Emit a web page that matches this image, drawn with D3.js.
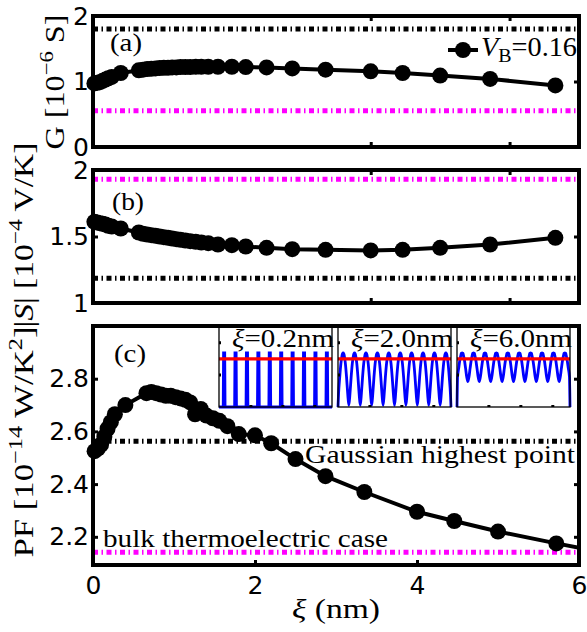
<!DOCTYPE html>
<html>
<head>
<meta charset="utf-8">
<script src="https://cdn.jsdelivr.net/npm/d3@7"></script>
<style>
body { margin: 0; background: #fff; }
svg { display: block; background: #fff; }
.tick text { font-family: "DejaVu Sans", sans-serif; font-size: 25px; fill: #000; }
.tick line { stroke: #000; stroke-width: 3; }
.serif { font-family: "Liberation Serif", "Times New Roman", serif; fill: #000; }
</style>
</head>
<body>
<div id="chart"></div>
<script>
// correlation length xi (nm)
const xi = [0.02, 0.06, 0.1, 0.14, 0.18, 0.22, 0.27, 0.4, 0.66, 0.72, 0.78, 0.84, 0.9, 0.96,
            1.02, 1.08, 1.14, 1.2, 1.26, 1.33, 1.4, 1.48, 1.56, 1.66, 1.8, 2.0, 2.2, 2.5,
            2.87, 3.35, 4.0, 4.46, 5.0, 5.72, 6.66];
// (a) conductance G [1e-6 S]
const conductance = [0.97, 0.98, 0.99, 1.01, 1.03, 1.05, 1.07, 1.13, 1.17, 1.18, 1.19, 1.195, 1.2, 1.205,
                     1.21, 1.21, 1.215, 1.215, 1.22, 1.22, 1.22, 1.225, 1.225, 1.225, 1.225, 1.225, 1.22, 1.215,
                     1.2, 1.18, 1.155, 1.13, 1.09, 1.04, 0.94];
// (b) |S| [1e-4 V/K]
const seebeck = [1.61, 1.605, 1.6, 1.595, 1.59, 1.58, 1.575, 1.56, 1.53, 1.52, 1.515, 1.51, 1.505, 1.5,
                 1.495, 1.49, 1.485, 1.48, 1.475, 1.47, 1.465, 1.46, 1.455, 1.45, 1.44, 1.435, 1.425, 1.415,
                 1.405, 1.4, 1.395, 1.4, 1.415, 1.44, 1.49];
// (c) power factor PF [1e-14 W/K^2]
const powerFactor = [2.525, 2.535, 2.55, 2.58, 2.61, 2.635, 2.665, 2.7, 2.745, 2.75, 2.745, 2.74, 2.735, 2.735,
                     2.73, 2.725, 2.72, 2.71, 2.665, 2.685, 2.66, 2.65, 2.64, 2.62, 2.59, 2.585, 2.555, 2.495,
                     2.43, 2.37, 2.295, 2.26, 2.22, 2.175, 2.12];
// reference levels per panel (a, b, c)
const gaussianLevels = [1.80, 1.186, 2.563];
const bulkLevels = [0.555, 1.93, 2.141];
const yTickValues = [[0, 1, 2], [1, 1.5, 2], [2.2, 2.4, 2.6, 2.8]];
const xTickValues = [0, 2, 4, 6];

// inset profiles: offset from a peak (in periods) and relative height
const insetNames = ["0.2", "2.0", "6.0"];
const peakIndex = [0, 1, 2, 3, 4, 5, 6, 7, 8, 9];
const profileOffsets = [0, 0.05, 0.08, 0.1, 0.2, 0.3, 0.4, 0.5];
const profileNarrow = [1, 1, 0, 0, 0, 0, 0, 0];
const profileMid = [1, 0.99, 0.97, 0.95, 0.8, 0.55, 0.25, 0.03];
const profileWide = [1, 0.995, 0.99, 0.97, 0.87, 0.72, 0.56, 0.47];
const insetRedLevel = 0.89;

const W = 587, H = 632;
const left = 93, right = 579;
const svg = d3.select("#chart").append("svg").attr("width", W).attr("height", H);

const panels = [
  {top: 16, bottom: 147, xMax: 7, yDom: [0, 2], vals: conductance, letter: "(a)", lx: 110, ly: 51},
  {top: 170, bottom: 303, xMax: 7, yDom: [1, 2], vals: seebeck, letter: "(b)", lx: 112, ly: 210},
  {top: 326, bottom: 565, xMax: 6, yDom: [2.093, 3.0], vals: powerFactor, letter: "(c)", lx: 114, ly: 362}
];

const dashStyle = "5,3.5,1.5,3.5";
const fmt = d3.format("~g");

panels.forEach((p, i) => {
  const x = d3.scaleLinear().domain([0, p.xMax]).range([left, right]);
  const y = d3.scaleLinear().domain(p.yDom).range([p.bottom, p.top]);
  const g = svg.append("g");

  // clip only on the right side, markers may overlap the left frame
  const clipId = "clip" + i;
  svg.append("clipPath").attr("id", clipId).append("rect")
    .attr("x", left - 20).attr("y", p.top - 20)
    .attr("width", right - left + 20).attr("height", p.bottom - p.top + 40);

  // reference levels
  g.append("line")
    .attr("x1", left).attr("x2", right)
    .attr("y1", y(gaussianLevels[i])).attr("y2", y(gaussianLevels[i]))
    .attr("stroke", "#000").attr("stroke-width", 5).attr("stroke-dasharray", dashStyle);
  g.append("line")
    .attr("x1", left).attr("x2", right)
    .attr("y1", y(bulkLevels[i])).attr("y2", y(bulkLevels[i]))
    .attr("stroke", "#ff00ff").attr("stroke-width", 5).attr("stroke-dasharray", dashStyle);

  // data
  const pts = xi.map((d, j) => [d, p.vals[j]]);
  const dg = g.append("g").attr("clip-path", `url(#${clipId})`);
  dg.append("path").datum(pts)
    .attr("d", d3.line().x(d => x(d[0])).y(d => y(d[1])))
    .attr("fill", "none").attr("stroke", "#000").attr("stroke-width", 4);
  dg.selectAll("circle").data(pts).join("circle")
    .attr("cx", d => x(d[0])).attr("cy", d => y(d[1])).attr("r", 8)
    .attr("fill", "#000");

  // axes, ticks inward
  const yl = g.append("g").attr("transform", `translate(${left},0)`)
    .call(d3.axisLeft(y).tickValues(yTickValues[i]).tickSizeInner(-5).tickSizeOuter(0).tickPadding(4).tickFormat(fmt));
  const yr = g.append("g").attr("transform", `translate(${right},0)`)
    .call(d3.axisRight(y).tickValues(yTickValues[i]).tickSizeInner(-5).tickSizeOuter(0).tickFormat(""));
  const xt = g.append("g").attr("transform", `translate(0,${p.top})`)
    .call(d3.axisTop(x).tickValues(xTickValues).tickSizeInner(-5).tickSizeOuter(0).tickFormat(""));
  const xb = g.append("g").attr("transform", `translate(0,${p.bottom})`)
    .call(d3.axisBottom(x).tickValues(xTickValues).tickSizeInner(-5).tickSizeOuter(0).tickPadding(11)
      .tickFormat(i === 2 ? fmt : ""));
  [yl, yr, xt, xb].forEach(a => a.select(".domain").remove());
  [yl, yr, xt, xb].forEach(a => a.selectAll(".tick line").filter(d => d === p.yDom[0] || d === p.yDom[1] || d === 0 || d === p.xMax).remove());

  // frame
  g.append("rect")
    .attr("x", left).attr("y", p.top)
    .attr("width", right - left).attr("height", p.bottom - p.top)
    .attr("fill", "none").attr("stroke", "#000").attr("stroke-width", 4);

  // panel letter
  g.append("text").attr("class", "serif")
    .attr("x", p.lx).attr("y", p.ly).attr("font-size", 25)
    .attr("textLength", 32).attr("lengthAdjust", "spacingAndGlyphs")
    .text(p.letter);
});

// y labels
function ylabel(tx, ty, len, parts) {
  const t = svg.append("text").attr("class", "serif")
    .attr("transform", `translate(${tx},${ty}) rotate(-90)`)
    .attr("text-anchor", "middle").attr("font-size", 27)
    .attr("textLength", len).attr("lengthAdjust", "spacingAndGlyphs");
  parts.forEach(pt => {
    const s = t.append("tspan").text(pt.t);
    if (pt.sup) s.attr("font-size", 19).attr("dy", -11);
    if (pt.down) s.attr("dy", 11);
    if (pt.it) s.attr("font-style", "italic");
  });
}
ylabel(64, 82, 135, [{t: "G [10"}, {t: "−6", sup: true}, {t: " S]", down: true}]);
ylabel(33, 235, 185, [{t: "|"}, {t: "S", it: true}, {t: "| [10"}, {t: "−4", sup: true}, {t: " V/K]", down: true}]);
ylabel(33, 442, 231, [{t: "PF [10"}, {t: "−14", sup: true}, {t: " W/K", down: true}, {t: "2", sup: true}, {t: "]", down: true}]);

// x label
const xl = svg.append("text").attr("class", "serif")
  .attr("x", 336).attr("y", 618).attr("text-anchor", "middle").attr("font-size", 27)
  .attr("textLength", 88).attr("lengthAdjust", "spacingAndGlyphs");
xl.append("tspan").attr("font-style", "italic").text("ξ");
xl.append("tspan").text(" (nm)");

// legend in (a)
svg.append("line").attr("x1", 448).attr("x2", 478).attr("y1", 50).attr("y2", 50)
  .attr("stroke", "#000").attr("stroke-width", 4);
svg.append("circle").attr("cx", 463).attr("cy", 50).attr("r", 8).attr("fill", "#000");
const lg = svg.append("text").attr("class", "serif")
  .attr("x", 481).attr("y", 56).attr("font-size", 27)
  .attr("textLength", 96).attr("lengthAdjust", "spacingAndGlyphs");
lg.append("tspan").attr("font-style", "italic").text("V");
lg.append("tspan").attr("font-size", 19).attr("dy", 6).text("B");
lg.append("tspan").attr("dy", -6).text("=0.16");

// annotations in (c)
svg.append("text").attr("class", "serif")
  .attr("x", 305).attr("y", 463).attr("font-size", 25)
  .attr("textLength", 270).attr("lengthAdjust", "spacingAndGlyphs")
  .text("Gaussian highest point");
svg.append("text").attr("class", "serif")
  .attr("x", 103).attr("y", 547).attr("font-size", 25)
  .attr("textLength", 285).attr("lengthAdjust", "spacingAndGlyphs")
  .text("bulk thermoelectric case");

// insets
const insetLefts = [219, 338, 457];
const insetW = 113, insetTop = 326, insetBottom = 407;
const profiles = [profileNarrow, profileMid, profileWide];

insetNames.forEach((name, k) => {
  const ix = d3.scaleLinear().domain([-0.45, 9.45]).range([insetLefts[k], insetLefts[k] + insetW]);
  const iy = d3.scaleLinear().domain([0, 1.5]).range([insetBottom, insetTop]);
  const g = svg.append("g");
  g.append("rect").attr("x", insetLefts[k]).attr("y", insetTop)
    .attr("width", insetW).attr("height", insetBottom - insetTop)
    .attr("fill", "#fff");

  const prof = profiles[k];
  let pts = [[-0.45, 0]];
  peakIndex.forEach(c => {
    for (let j = profileOffsets.length - 1; j > 0; j--) pts.push([c - profileOffsets[j], prof[j]]);
    pts.push([c, prof[0]]);
    for (let j = 1; j < profileOffsets.length; j++) pts.push([c + profileOffsets[j], prof[j]]);
  });
  pts = pts.filter(d => d[0] >= -0.45 && d[0] <= 9.45);
  pts.push([9.45, 0]);

  g.append("path").datum(pts)
    .attr("d", d3.line().x(d => ix(d[0])).y(d => iy(d[1])).curve(k === 0 ? d3.curveLinear : d3.curveMonotoneX))
    .attr("fill", "none").attr("stroke", "#0000ff").attr("stroke-width", 2.8);
  g.append("line").attr("x1", ix(-0.45)).attr("x2", ix(9.45))
    .attr("y1", iy(insetRedLevel)).attr("y2", iy(insetRedLevel))
    .attr("stroke", "#ff0000").attr("stroke-width", 3.2);

  const il = g.append("g").attr("transform", `translate(${insetLefts[k]},0)`)
    .call(d3.axisLeft(iy).tickValues([0.6, 1.2]).tickSizeInner(-2).tickSizeOuter(0).tickFormat(""));
  const ib = g.append("g").attr("transform", `translate(0,${insetBottom})`)
    .call(d3.axisBottom(ix).tickValues([2.3, 5.1, 7.9]).tickSizeInner(-2).tickSizeOuter(0).tickFormat(""));
  [il, ib].forEach(a => { a.select(".domain").remove(); a.selectAll(".tick line").attr("stroke-width", 1); });

  g.append("rect").attr("x", insetLefts[k]).attr("y", insetTop)
    .attr("width", insetW).attr("height", insetBottom - insetTop)
    .attr("fill", "none").attr("stroke", "#000").attr("stroke-width", 1.3);

  const t = g.append("text").attr("class", "serif")
    .attr("x", insetLefts[k] + 13).attr("y", 347).attr("font-size", 25)
    .attr("textLength", 102).attr("lengthAdjust", "spacingAndGlyphs");
  t.append("tspan").attr("font-style", "italic").text("ξ");
  t.append("tspan").text("=" + name + "nm");
});

// redraw the top frame edge of (c) over the insets
svg.append("line").attr("x1", left).attr("x2", right).attr("y1", 326).attr("y2", 326)
  .attr("stroke", "#000").attr("stroke-width", 4);
</script>
</body>
</html>
